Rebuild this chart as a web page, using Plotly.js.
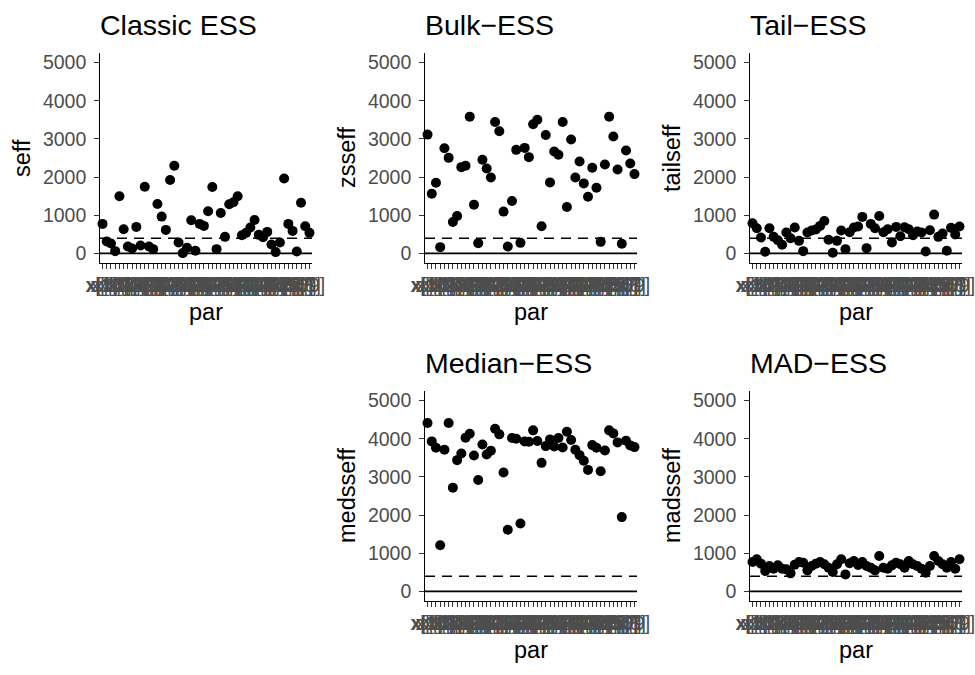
<!DOCTYPE html>
<html>
<head>
<meta charset="utf-8">
<script src="https://cdn.plot.ly/plotly-3.0.1.min.js"></script>
<style>html,body{margin:0;padding:0;background:#fff}#plot{width:975px;height:675px}</style>
</head>
<body>
<div id="plot"></div>
<script>
// ---- data ----
const par = ["x[1]","x[10]","x[11]","x[12]","x[13]","x[14]","x[15]","x[16]","x[17]","x[18]","x[19]",
  "x[2]","x[20]","x[21]","x[22]","x[23]","x[24]","x[25]","x[26]","x[27]","x[28]","x[29]",
  "x[3]","x[30]","x[31]","x[32]","x[33]","x[34]","x[35]","x[36]","x[37]","x[38]","x[39]",
  "x[4]","x[40]","x[41]","x[42]","x[43]","x[44]","x[45]","x[46]","x[47]","x[48]","x[49]",
  "x[5]","x[50]","x[6]","x[7]","x[8]","x[9]"];

const seff = [774,313,261,61,1496,635,183,130,696,209,1748,183,113,1296,965,617,1922,2296,287,9,
  148,870,70,774,722,1104,1739,113,1061,435,1287,1339,1496,478,539,678,878,487,426,565,
  235,35,287,1965,774,591,52,1330,713,539];

const zsseff = [3113,1565,1852,165,2757,2504,826,983,2261,2296,3583,1278,270,2452,2226,1991,3443,3200,1096,183,
  1374,2713,278,2765,2522,3383,3504,713,3104,1861,2670,2583,3443,1217,2983,1991,2409,1835,1487,2243,
  1722,304,2330,3583,3061,2200,252,2696,2357,2078];

const tailseff = [791,661,417,43,661,435,348,226,548,400,678,330,61,548,600,626,722,852,357,17,
  330,600,113,557,678,704,957,139,774,661,983,557,635,287,696,452,687,635,478,574,
  548,52,609,1017,435,522,70,670,496,704];

const medsseff = [4412,3930,3763,1211,3711,4412,2719,3439,3614,4026,4132,3561,2921,3851,3588,3684,4263,4114,3114,1614,
  4018,4000,1781,3930,3921,4219,3939,3368,3807,3982,3798,4018,3772,4184,3965,3711,3570,3421,3184,3833,
  3763,3149,3693,4219,4140,3904,1947,3947,3825,3781];

const madsseff = [772,842,728,535,667,596,684,596,579,474,702,772,754,553,667,728,772,711,623,509,
  711,842,447,737,798,693,772,667,623,553,930,623,596,684,754,711,623,798,711,667,
  596,491,667,930,798,711,623,772,596,842];

const panelTitles = ["Classic ESS", "Bulk\u2212ESS", "Tail\u2212ESS", "Median\u2212ESS", "MAD\u2212ESS"];
const yLabels = ["seff", "zsseff", "tailseff", "medsseff", "madsseff"];
const xLabel = "par";
const series = [seff, zsseff, tailseff, medsseff, madsseff];
const yTicks = [0, 1000, 2000, 3000, 4000, 5000];
const refLines = [0, 400];   // solid at 0, dashed at 400

// ---- layout (pixel boxes of each panel) ----
const W = 975, H = 675;
const boxes = [
  {l:100, r:312, t:53, b:263},
  {l:425, r:637, t:53, b:263},
  {l:750, r:962, t:53, b:263},
  {l:425, r:637, t:391, b:601},
  {l:750, r:962, t:391, b:601}
];
const px = x => x / W;
const py = y => 1 - y / H;

const FONT = "Liberation Sans, Arial, Helvetica, sans-serif";
const traces = [];
const layout = {
  width: W, height: H,
  margin: {l:0, r:0, t:0, b:0},
  paper_bgcolor: "#fff", plot_bgcolor: "#fff",
  showlegend: false,
  font: {family: FONT},
  annotations: [], shapes: []
};

series.forEach((vals, i) => {
  const n = i + 1;
  const xa = "xaxis" + (n === 1 ? "" : n), ya = "yaxis" + (n === 1 ? "" : n);
  const xr = "x" + (n === 1 ? "" : n), yr = "y" + (n === 1 ? "" : n);
  const bx = boxes[i];
  traces.push({
    type: "scatter", mode: "markers",
    x: par, y: vals, xaxis: xr, yaxis: yr,
    marker: {color: "#000", size: 10, line: {width: 0}},
    cliponaxis: false, hoverinfo: "x+y"
  });
  layout[xa] = {
    domain: [px(bx.l), px(bx.r)], anchor: yr,
    type: "category", categoryorder: "array", categoryarray: par,
    range: [-0.6, par.length - 1 + 0.6],
    tickmode: "array", tickvals: par, ticktext: par,
    tickangle: 0, ticks: "outside", ticklen: 4.5, tickwidth: 1, tickcolor: "#333",
    showline: true, linecolor: "#000", linewidth: 1.3,
    showgrid: false, zeroline: false,
    tickfont: {family: FONT, size: 19.5, color: "#4d4d4d"},
    ticklabelstandoff: 0
  };
  layout[ya] = {
    domain: [py(bx.b), py(bx.t)], anchor: xr,
    range: [-250, 5250],
    tickmode: "array", tickvals: yTicks,
    ticks: "outside", ticklen: 4.5, tickwidth: 1, tickcolor: "#333",
    showline: true, linecolor: "#000", linewidth: 1.3,
    showgrid: false, zeroline: false,
    tickfont: {family: FONT, size: 19.5, color: "#4d4d4d"},
    ticklabelstandoff: 4
  };
  // reference lines
  layout.shapes.push({type:"line", xref: xr + " domain", x0:0, x1:1, yref: yr, y0: refLines[0], y1: refLines[0],
    line: {color:"#000", width:1.7}});
  layout.shapes.push({type:"line", xref: xr + " domain", x0:0, x1:1, yref: yr, y0: refLines[1], y1: refLines[1],
    line: {color:"#000", width:1.5, dash:"10px,7px"}});
  // panel title
  layout.annotations.push({text: panelTitles[i], xref:"paper", yref:"paper",
    x: px(bx.l - 2), y: py(bx.t - 28), xanchor:"left", yanchor:"middle", showarrow:false,
    font:{family: FONT, size: 28.5, color:"#000"}});
  // x axis title
  layout.annotations.push({text: xLabel, xref:"paper", yref:"paper",
    x: px((bx.l + bx.r) / 2), y: py(bx.b + 49), xanchor:"center", yanchor:"middle", showarrow:false,
    font:{family: FONT, size: 23.5, color:"#000"}});
  // y axis title
  layout.annotations.push({text: yLabels[i], xref:"paper", yref:"paper",
    x: px(bx.l - 78), y: py((bx.t + bx.b) / 2), xanchor:"center", yanchor:"middle", showarrow:false,
    textangle: -90, font:{family: FONT, size: 23.5, color:"#000"}});
});

Plotly.newPlot("plot", traces, layout, {displayModeBar:false, staticPlot:true});
</script>
</body>
</html>
